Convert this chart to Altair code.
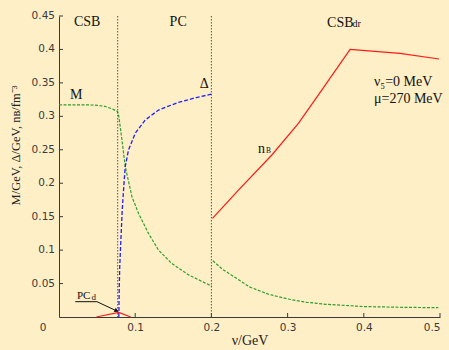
import altair as alt
import pandas as pd

# ---------------- data ----------------
# M (green dashed), phase CSB/PC part (0 .. 0.2)
M1_x = [0.0, 0.02, 0.04, 0.05, 0.06, 0.07, 0.077, 0.0785, 0.0826, 0.0869, 0.0957,
        0.1043, 0.1174, 0.1306, 0.148, 0.170, 0.2006]
M1_y = [0.317, 0.317, 0.317, 0.3165, 0.315, 0.311, 0.307, 0.300, 0.265, 0.225, 0.180,
        0.155, 0.125, 0.100, 0.080, 0.063, 0.046]
# M, CSB_dr part (0.2 .. 0.5)
M2_x = [0.2019, 0.215, 0.23, 0.25, 0.275, 0.3, 0.325, 0.35, 0.4, 0.45, 0.4978]
M2_y = [0.084, 0.071, 0.060, 0.045, 0.034, 0.027, 0.022, 0.019, 0.0156, 0.0145, 0.0139]
# Delta (blue dashed)
D_x = [0.0785, 0.079, 0.0797, 0.0812, 0.083, 0.0847, 0.0869, 0.0912, 0.100, 0.1131,
       0.1306, 0.1568, 0.180, 0.2006]
D_y = [0.0, 0.04, 0.075, 0.115, 0.160, 0.190, 0.2247, 0.2496, 0.2746, 0.2945,
       0.3094, 0.321, 0.328, 0.3333]
# n_B (red), small PC_d bump
N1_x = [0.049, 0.0784, 0.094]
N1_y = [0.0, 0.007, 0.0]
# n_B, CSB_dr part
N2_x = [0.2014, 0.2355, 0.2793, 0.3142, 0.3448, 0.382, 0.4475, 0.4987]
N2_y = [0.1475, 0.1898, 0.2422, 0.2895, 0.3393, 0.400, 0.394, 0.3857]

# phase boundaries
BOUND_x = [0.077, 0.2]

# ticks
X_TICKS = [0.1, 0.2, 0.3, 0.4, 0.5]
Y_TICKS = [0.05, 0.1, 0.15, 0.2, 0.25, 0.3, 0.35, 0.4, 0.45]
Y_LABELS = ["0.05", "0.1", "0.15", "0.2", "0.25", "0.3", "0.35", "0.4", "0.45"]

# annotations
REGION_TEXT = ["CSB", "PC"]
REGION_X = [0.037, 0.1564]
REGION_Y = [0.441, 0.441]

CURVE_TEXT = ["M", "Δ"]
CURVE_X = [0.0227, 0.1905]
CURVE_Y = [0.332, 0.348]

PARAM_TEXT = ["ν₅=0 MeV", "μ=270 MeV"]
PARAM_X = [0.4134, 0.4134]
PARAM_Y = [0.351, 0.326]

# ---------------- build tables ----------------
def seg(xs, ys, part):
    return pd.DataFrame({"x": xs, "y": ys, "part": part})

dM = pd.concat([seg(M1_x, M1_y, "a"), seg(M2_x, M2_y, "b")])
dD = seg(D_x, D_y, "a")
dN = pd.concat([seg(N1_x, N1_y, "a"), seg(N2_x, N2_y, "b")])

W, H = 381, 301
SERIF = "Liberation Serif"
SANS = "DejaVu Sans"
AXC = "#3a3a3a"

xs = alt.Scale(domain=[0, 0.5], nice=False, zero=False)
ys = alt.Scale(domain=[0, 0.45], nice=False, zero=False)

XAX = alt.Axis(
    values=X_TICKS, format="~g", title="ν/GeV", grid=False, tickSize=0,
    labelFont=SANS, labelFontSize=10.5, labelColor=AXC, labelPadding=5,
    labelOverlap=False,
    titleFont=SERIF, titleFontSize=14, titleFontWeight="normal", titleColor="#222",
    titlePadding=1, domainColor=AXC, domainWidth=1)
YAX = alt.Axis(
    values=Y_TICKS, title="M/GeV, Δ/GeV, nʙ/fm⁻³", grid=False, tickSize=0,
    labels=False,
    titleFont=SERIF, titleFontSize=12.5, titleFontWeight="normal", titleColor="#222",
    titleX=-44, titleY=129, titleAngle=270, titleAlign="center", titleBaseline="middle",
    domainColor=AXC, domainWidth=1)

X = alt.X("x:Q", scale=xs, axis=XAX)
Y = alt.Y("y:Q", scale=ys, axis=YAX)

base_lines = alt.Chart(dM).mark_line(color="#2f9e2f", strokeWidth=1.2,
                                     strokeDash=[3, 1.5]).encode(
    x=X, y=Y, detail="part:N")

delta = alt.Chart(dD).mark_line(color="#1f1fff", strokeWidth=1.3,
                                strokeDash=[4, 2]).encode(x=X, y=Y)

nb = alt.Chart(dN).mark_line(color="#ff1a1a", strokeWidth=1.2).encode(
    x=X, y=Y, detail="part:N")

bounds = alt.Chart(pd.DataFrame({"x": BOUND_x})).mark_rule(
    color="#555", strokeWidth=1, strokeDash=[1.5, 1.5]).encode(
    x=X, y=alt.value(0), y2=alt.value(H))

xt = alt.Chart(pd.DataFrame({"x": X_TICKS})).mark_rule(color=AXC, strokeWidth=1).encode(
    x=X, y=alt.value(H), y2=alt.value(H - 4))
yt = alt.Chart(pd.DataFrame({"y": Y_TICKS})).mark_rule(color=AXC, strokeWidth=1).encode(
    y=Y, x=alt.value(0), x2=alt.value(4))
ylab = alt.Chart(pd.DataFrame({"y": Y_TICKS, "t": Y_LABELS})).mark_text(
    font=SANS, fontSize=10.5, color=AXC, align="right", baseline="middle").encode(
    y=Y, x=alt.value(-4), text="t:N")

origin = alt.Chart(pd.DataFrame({"t": ["0"]})).mark_text(
    font=SANS, fontSize=10.5, color=AXC, align="center", baseline="middle").encode(
    text="t:N", x=alt.value(-16), y=alt.value(H + 11))


def texts(tx, xx, yy, size, align="center", baseline="middle", font=SERIF):
    df = pd.DataFrame({"t": tx, "x": xx, "y": yy})
    return alt.Chart(df).mark_text(font=font, fontSize=size, color="#111",
                                   align=align, baseline=baseline).encode(
        text="t:N", x=X, y=Y)


regions = texts(REGION_TEXT, REGION_X, REGION_Y, 14)
csbdr = texts(["CSB"], [0.3518], [0.4335], 14, align="left", baseline="alphabetic")
dr = texts(["dr"], [0.3852], [0.4335], 10, align="left", baseline="alphabetic")
curves = texts(CURVE_TEXT, CURVE_X, CURVE_Y, 14)
nlab = texts(["n"], [0.261], [0.2456], 14, align="left", baseline="alphabetic")
blab = texts(["B"], [0.2718], [0.2445], 7.5, align="left", baseline="alphabetic")
params = texts(PARAM_TEXT, PARAM_X, PARAM_Y, 14, align="left")
pclab = texts(["PC"], [0.0235], [0.0265], 11, align="left", baseline="alphabetic")
dlab = texts(["d"], [0.0425], [0.0254], 9, align="left", baseline="alphabetic")

# PC_d pointer: underline + arrow
under = alt.Chart(pd.DataFrame({"x": [0.0213], "x2": [0.0498], "y": [0.0229]})).mark_rule(
    color="#111", strokeWidth=1).encode(x=X, x2="x2:Q", y=Y)
arrow = alt.Chart(pd.DataFrame({"x": [0.0498], "x2": [0.0755], "y": [0.0229], "y2": [0.0092]})).mark_rule(
    color="#111", strokeWidth=1).encode(x=X, x2="x2:Q", y=Y, y2="y2:Q")
head = alt.Chart(pd.DataFrame({"x": [0.0748], "y": [0.0097]})).mark_point(
    shape="triangle", filled=True, color="#111", size=22, angle=116, opacity=1).encode(
    x=X, y=Y)

chart = alt.layer(
    base_lines, bounds, delta, nb, xt, yt, ylab, origin,
    regions, csbdr, dr, curves, nlab, blab, params, pclab, dlab,
    under, arrow, head
).properties(
    width=W, height=H,
    padding={"left": 59, "top": 16, "right": 9, "bottom": 33},
    autosize=alt.AutoSizeParams(type="none"),
    background="#FEEFC6",
).configure_view(stroke=None)

chart.save("out.html", embed_options={"renderer": "svg", "actions": False})
